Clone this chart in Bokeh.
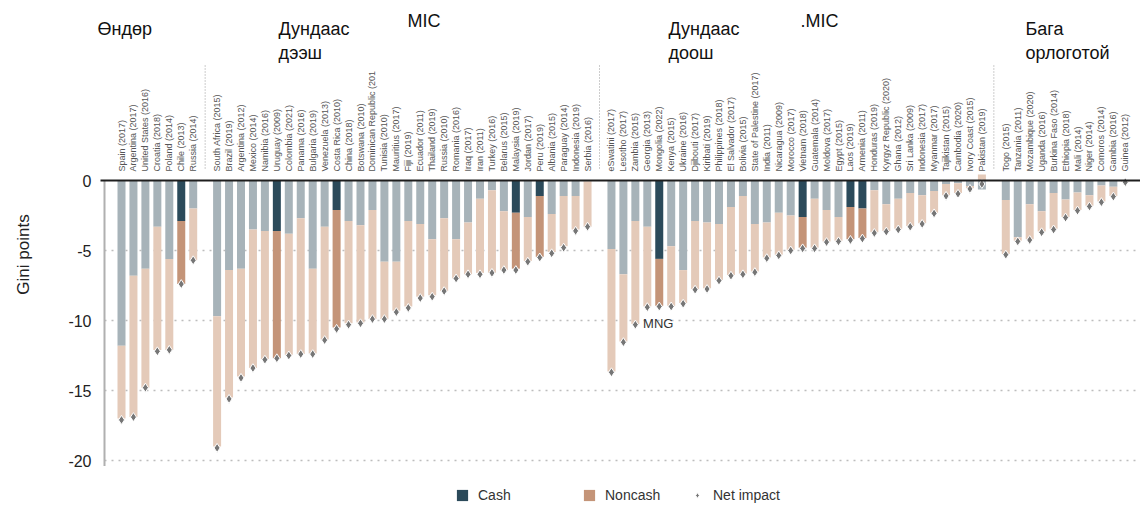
import numpy as np
from bokeh.plotting import figure
from bokeh.models import (ColumnDataSource, FixedTicker, Range1d, Label,
                          Legend, LegendItem)
from bokeh.core.properties import value
from bokeh.embed import file_html
from bokeh.resources import INLINE

FONT = "Liberation Sans"

# ---------------- data ----------------
high_countries = ["Spain (2017)", "Argentina (2017)", "United States (2016)", "Croatia (2018)",
                  "Poland (2014)", "Chile (2013)", "Russia (2014)"]
high_cash = [-11.8, -6.8, -6.3, -3.3, -5.6, -2.9, -2.0]
high_noncash = [-5.2, -10.1, -8.5, -8.8, -6.5, -4.5, -3.7]
high_net = [-17.1, -16.9, -14.8, -12.2, -12.1, -7.4, -5.7]

umic_countries = ["South Africa (2015)", "Brazil (2019)", "Argentina (2012)", "Mexico (2014)",
                  "Namibia (2016)", "Uruguay (2009)", "Colombia (2021)", "Panama (2016)",
                  "Bulgaria (2019)", "Venezuela (2013)", "Costa Rica (2010)", "China (2018)",
                  "Botswana (2010)", "Dominican Republic (201", "Tunisia (2010)", "Mauritius (2017)",
                  "Fiji (2019)", "Ecuador (2011)", "Thailand (2019)", "Russia (2010)",
                  "Romania (2016)", "Iraq (2017)", "Iran (2011)", "Turkey (2016)",
                  "Belarus (2015)", "Malaysia (2019)", "Jordan (2017)", "Peru (2019)",
                  "Albania (2015)", "Paraguay (2014)", "Indonesia (2019)", "Serbia (2016)"]
umic_cash = [-9.7, -6.4, -6.3, -3.5, -3.6, -3.6, -3.8, -2.7, -6.3, -3.3, -2.1, -2.9,
             -3.2, -2.1, -5.8, -5.8, -2.9, -3.1, -4.2, -2.7, -4.2, -3.0, -1.3, -0.7,
             -2.2, -2.3, -2.6, -1.1, -2.4, -1.1, -1.1, -0.05]
umic_noncash = [-9.3, -9.1, -7.7, -9.9, -9.15, -9.1, -8.65, -9.7, -6.05, -8.05, -8.4, -7.3,
                -6.95, -7.8, -4.1, -3.5, -6.1, -5.2, -4.0, -5.2, -2.8, -3.7, -5.3, -5.9,
                -4.2, -4.0, -3.15, -4.35, -2.7, -3.6, -2.4, -3.25]
umic_net = [-19.1, -15.6, -14.1, -13.4, -12.8, -12.7, -12.5, -12.4, -12.4, -11.4, -10.6, -10.3,
            -10.2, -9.9, -9.9, -9.4, -9.1, -8.4, -8.3, -7.9, -7.0, -6.7, -6.7, -6.6,
            -6.4, -6.4, -5.8, -5.5, -5.2, -4.8, -3.6, -3.3]

lmic_countries = ["eSwatini (2017)", "Lesotho (2017)", "Zambia (2015)", "Georgia (2013)",
                  "Mongolia (2022)", "Kenya (2015)", "Ukraine (2016)", "Djibouti (2017)",
                  "Kiribati (2019)", "Philippines (2018)", "El Salvador (2017)", "Bolivia (2015)",
                  "State of Palestine (2017)", "India (2011)", "Nicaragua (2009)", "Morocco (2017)",
                  "Vietnam (2018)", "Guatemala (2014)", "Moldova (2017)", "Egypt (2015)",
                  "Laos (2019)", "Armenia (2011)", "Honduras (2019)", "Kyrgyz Republic (2020)",
                  "Ghana (2012)", "Sri Lanka (2009)", "Indonesia (2017)", "Myanmar (2017)",
                  "Tajikistan (2015)", "Cambodia (2020)", "Ivory Coast (2015)", "Pakistan (2019)"]
lmic_cash = [-4.9, -6.7, -2.9, -3.3, -5.6, -4.7, -6.4, -2.9, -3.0, -3.1, -1.9, -1.1,
             -3.1, -3.0, -2.3, -2.5, -2.6, -1.3, -2.1, -2.6, -1.9, -2.0, -0.7, -1.7,
             -1.3, -0.9, -1.05, -0.75, -0.25, -0.2, -0.4, -0.64]
lmic_noncash = [-8.75, -4.8, -7.35, -5.7, -3.35, -4.25, -2.35, -4.85, -4.7, -4.0, -4.85, -5.55,
                -3.4, -2.5, -3.0, -2.45, -2.2, -3.5, -2.25, -1.7, -2.3, -2.1, -3.0, -1.9,
                -2.15, -2.35, -2.0, -1.55, -0.8, -0.7, -0.15, 0.43]
lmic_net = [-13.7, -11.55, -10.3, -9.05, -9.0, -9.0, -8.8, -7.8, -7.75, -7.15, -6.8, -6.7,
            -6.55, -5.55, -5.35, -5.0, -4.85, -4.85, -4.4, -4.35, -4.25, -4.15, -3.75, -3.65,
            -3.5, -3.3, -3.1, -2.35, -1.1, -0.95, -0.6, -0.25]

low_countries = ["Togo (2015)", "Tanzania (2011)", "Mozambique (2020)", "Uganda (2016)",
                 "Burkina Faso (2014)", "Ethiopia (2018)", "Mali (2014)", "Niger (2014)",
                 "Comoros (2014)", "Gambia (2016)", "Guinea (2012)"]
low_cash = [-1.4, -4.05, -1.7, -2.2, -0.9, -1.35, -0.85, -1.05, -0.35, -0.45, -0.05]
low_noncash = [-3.85, -0.25, -2.5, -1.45, -2.55, -1.25, -1.25, -0.75, -1.15, -0.65, -0.05]
low_net = [-5.3, -4.35, -4.25, -3.7, -3.5, -2.65, -2.15, -1.85, -1.55, -1.15, -0.12]

highlighted = ["Chile (2013)", "Uruguay (2009)", "Costa Rica (2010)", "Malaysia (2019)",
               "Peru (2019)", "Mongolia (2022)", "Vietnam (2018)", "Laos (2019)", "Armenia (2011)"]

group_titles = [["Өндөр"], ["Дундаас", "дээш"], ["Дундаас", "доош"], ["Бага", "орлоготой"]]
income_tags = ["MIC", ".MIC"]
y_ticks = [0, -5, -10, -15, -20]
grid_ticks = [-5, -10, -15, -20]

# ---------------- assemble ----------------
groups = [(high_countries, high_cash, high_noncash, high_net),
          (umic_countries, umic_cash, umic_noncash, umic_net),
          (lmic_countries, lmic_cash, lmic_noncash, lmic_net),
          (low_countries, low_cash, low_noncash, low_net)]

xs, names, cash, noncash, net, seps = [], [], [], [], [], []
pos = 0
for gi, (c, ca, nc, nt) in enumerate(groups):
    for i in range(len(c)):
        xs.append(pos + i)
    names += c; cash += ca; noncash += nc; net += nt
    pos += len(c)
    if gi < len(groups) - 1:
        seps.append(pos)
    pos += 1

cash = np.array(cash); noncash = np.array(noncash)
nc_bottom = np.where(noncash < 0, cash + noncash, 0.0)
nc_top = np.where(noncash < 0, cash, noncash)
hl = [n in highlighted for n in names]
cash_col = ["#2b4a5a" if h else "#a7b3b9" for h in hl]
nc_col = ["#c49478" if h else "#e4cab9" for h in hl]

src = ColumnDataSource(dict(x=xs, name=names, cash=cash, zero=[0.0] * len(xs),
                            nc_bottom=nc_bottom, nc_top=nc_top, net=net,
                            cash_col=cash_col, nc_col=nc_col))

# ---------------- figure ----------------
PX_PER_SLOT = 11.95
PX_PER_UNIT = 14.0
W, H = 1140, 508
LEFT = 92                     # page x of the frame's left edge
SLOT0 = 121                   # page x of the first bar
ZERO = 180                    # page y of the zero line


def px2x(px):
    return (px - SLOT0) / PX_PER_SLOT


def py2y(py):
    return (ZERO - py) / PX_PER_UNIT


x0 = px2x(LEFT)
x1 = x0 + (W - LEFT) / PX_PER_SLOT
y1 = py2y(0)
y0 = y1 - H / PX_PER_UNIT

p = figure(width=W, height=H, output_backend="svg", toolbar_location=None,
           x_range=Range1d(x0, x1), y_range=Range1d(y0, y1),
           x_axis_location=None, min_border_left=LEFT, min_border_right=0,
           min_border_top=0, min_border_bottom=0)
p.outline_line_color = None
p.background_fill_color = "white"
p.xgrid.visible = False
p.ygrid.visible = False

ax = p.yaxis[0]
ax.ticker = FixedTicker(ticks=y_ticks)
ax.major_label_overrides = {t: str(t) for t in y_ticks}
ax.axis_line_color = None
ax.major_tick_line_color = None
ax.minor_tick_line_color = None
ax.major_tick_out = 0
ax.major_label_standoff = 1
ax.major_label_text_font = FONT
ax.major_label_text_font_size = "16px"
ax.major_label_text_color = "#222222"
ax.axis_label = "Gini points"
ax.axis_label_text_font = FONT
ax.axis_label_text_font_size = "17px"
ax.axis_label_text_font_style = "normal"
ax.axis_label_text_color = "#222222"
ax.axis_label_standoff = 32

# dotted grid lines from the y axis to the right edge
p.segment(x0=[px2x(104)] * len(grid_ticks), x1=[x1] * len(grid_ticks),
          y0=grid_ticks, y1=grid_ticks, line_color="#bdbdbd", line_width=1.5,
          line_dash="2 5")

# y axis line (only over the value area)
p.segment(x0=[px2x(104)], x1=[px2x(104)], y0=[0], y1=[-20.4],
          line_color="#b0b0b0", line_width=2)

bw = 8 / PX_PER_SLOT
r_cash = p.vbar(x="x", width=bw, top="zero", bottom="cash", fill_color="cash_col",
                line_color=None, source=src)
r_nc = p.vbar(x="x", width=bw, top="nc_top", bottom="nc_bottom", fill_color="nc_col",
              line_color=None, source=src)
r_net = p.scatter(x="x", y="net", marker="diamond", size=9, fill_color="#767676",
                  line_color="white", line_width=1, source=src)

# zero line
p.segment(x0=[px2x(100)], x1=[x1], y0=[0], y1=[0], line_color="#1e1e1e", line_width=2)

# category labels
p.text(x="x", y=py2y(171), text="name", angle=np.pi / 2, text_align="left",
       text_baseline="middle", text_font=value(FONT), text_font_size="9px",
       text_color="#555555", source=src)

# group separators
p.segment(x0=seps, x1=seps, y0=[py2y(168)] * len(seps), y1=[py2y(63)] * len(seps),
          line_color="#9a9a9a", line_width=1, line_dash="1 2")

# group titles
title_px = [97, 278, 668, 1025]
for tx, lines in zip(title_px, group_titles):
    for li, t in enumerate(lines):
        p.add_layout(Label(x=px2x(tx), y=py2y(28 + 24 * li), text=t, text_align="left",
                           text_baseline="middle", text_font=FONT, text_font_size="18px",
                           text_color="#111111"))
for tx, t in zip([407, 800], income_tags):
    p.add_layout(Label(x=px2x(tx), y=py2y(20), text=t, text_align="left",
                       text_baseline="middle", text_font=FONT, text_font_size="18px",
                       text_color="#111111"))

# MNG annotation
mi = names.index("Mongolia (2022)")
p.add_layout(Label(x=xs[mi] - 1.35, y=net[mi] - 1.2, text="MNG", text_align="left",
                   text_baseline="middle", text_font=FONT, text_font_size="13px",
                   text_color="#333333"))

# legend
ci = names.index("Chile (2013)")
for lab, rend, lpx in [("Cash", r_cash, 455), ("Noncash", r_nc, 582), ("Net impact", r_net, 690)]:
    leg = Legend(items=[LegendItem(label=lab, renderers=[rend], index=ci)],
                 location=(lpx - LEFT, 5), orientation="horizontal", padding=0, margin=0,
                 spacing=0, glyph_width=14, glyph_height=14, label_standoff=9,
                 label_text_font=FONT, label_text_font_size="14px", label_text_color="#333333",
                 border_line_color=None, background_fill_alpha=0)
    p.add_layout(leg)

open("out.html", "w").write(file_html(p, INLINE))
